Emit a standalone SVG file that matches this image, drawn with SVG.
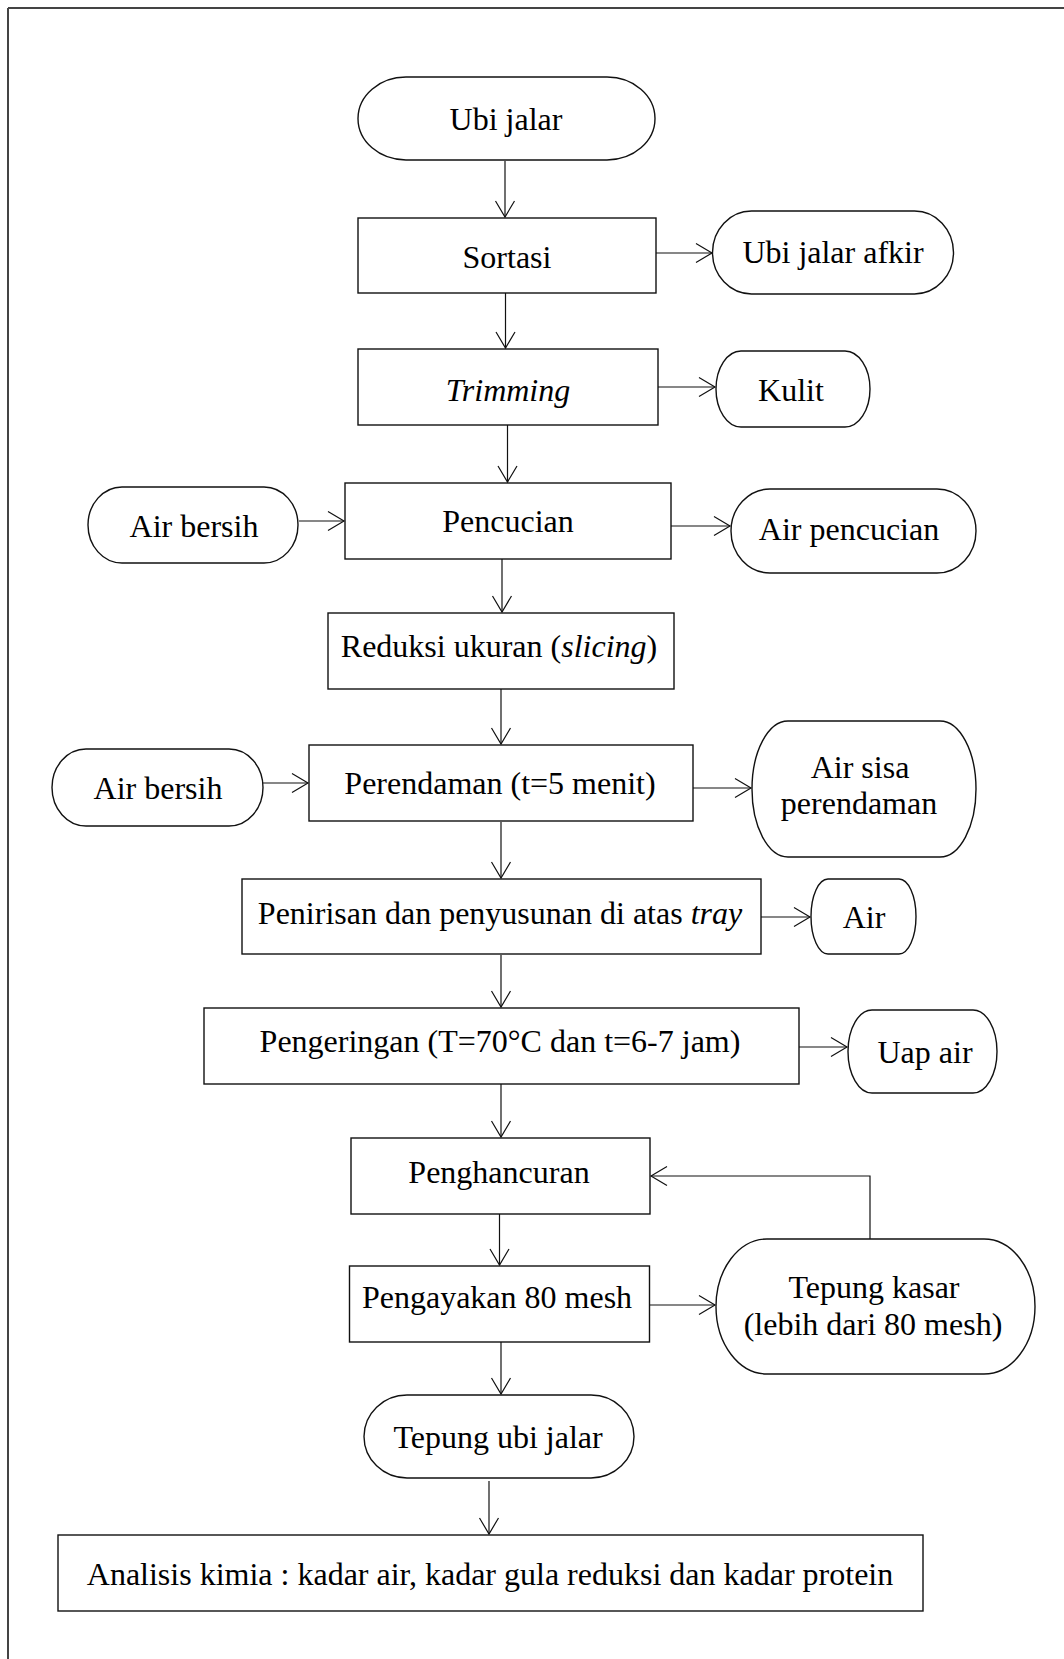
<svg xmlns="http://www.w3.org/2000/svg" width="1064" height="1659" viewBox="0 0 1064 1659">
<style>
.box{fill:#fff;stroke:#111;stroke-width:1.4}
.t{font-family:"Liberation Serif","Times New Roman",serif;font-size:32px;fill:#000;text-anchor:middle}
.i{font-style:italic}
.c{fill:none;stroke:#111;stroke-width:1.2}
</style>
<defs>
<marker id="arr" markerUnits="userSpaceOnUse" markerWidth="20" markerHeight="22" viewBox="-18 -11 20 22" refX="0" refY="0" orient="auto">
<path d="M-16,-9.5 L0,0 L-16,9.5" fill="none" stroke="#111" stroke-width="1.2"/>
</marker>
</defs>
<rect width="1064" height="1659" fill="#fff"/>
<g id="frame">
<line x1="8" y1="8" x2="1064" y2="8" stroke="#444" stroke-width="2"/>
<line x1="8" y1="8" x2="8" y2="1659" stroke="#444" stroke-width="2"/>
</g>
<g id="connectors">
<line class="c" x1="505" y1="161" x2="505" y2="217" marker-end="url(#arr)"/>
<line class="c" x1="656" y1="253" x2="712" y2="253" marker-end="url(#arr)"/>
<line class="c" x1="505.5" y1="293" x2="505.5" y2="348" marker-end="url(#arr)"/>
<line class="c" x1="658" y1="387" x2="715" y2="387" marker-end="url(#arr)"/>
<line class="c" x1="507.5" y1="425" x2="507.5" y2="482" marker-end="url(#arr)"/>
<line class="c" x1="299" y1="521" x2="344" y2="521" marker-end="url(#arr)"/>
<line class="c" x1="671" y1="526" x2="730" y2="526" marker-end="url(#arr)"/>
<line class="c" x1="502" y1="559" x2="502" y2="612" marker-end="url(#arr)"/>
<line class="c" x1="501" y1="689" x2="501" y2="744" marker-end="url(#arr)"/>
<line class="c" x1="263" y1="783" x2="308" y2="783" marker-end="url(#arr)"/>
<line class="c" x1="693" y1="788" x2="751" y2="788" marker-end="url(#arr)"/>
<line class="c" x1="501" y1="822" x2="501" y2="878" marker-end="url(#arr)"/>
<line class="c" x1="761" y1="917" x2="810" y2="917" marker-end="url(#arr)"/>
<line class="c" x1="501" y1="955" x2="501" y2="1007" marker-end="url(#arr)"/>
<line class="c" x1="799" y1="1047" x2="847" y2="1047" marker-end="url(#arr)"/>
<line class="c" x1="501" y1="1084" x2="501" y2="1137" marker-end="url(#arr)"/>
<polyline class="c" points="870,1239 870,1176 651,1176" marker-end="url(#arr)"/>
<line class="c" x1="499.5" y1="1213" x2="499.5" y2="1265" marker-end="url(#arr)"/>
<line class="c" x1="649.5" y1="1305" x2="715" y2="1305" marker-end="url(#arr)"/>
<line class="c" x1="501" y1="1342" x2="501" y2="1394" marker-end="url(#arr)"/>
<line class="c" x1="489" y1="1481" x2="489" y2="1534" marker-end="url(#arr)"/>
</g>
<g id="ubi-jalar"><rect class="box" x="358" y="77" width="297" height="83" rx="48" ry="41.5"/><text class="t" x="506" y="130">Ubi jalar</text></g>
<g id="sortasi"><rect class="box" x="358" y="218" width="298" height="75"/><text class="t" x="507" y="268">Sortasi</text></g>
<g id="ubi-jalar-afkir"><rect class="box" x="712.5" y="211" width="241" height="83" rx="39" ry="41.5"/><text class="t" x="833" y="263">Ubi jalar afkir</text></g>
<g id="trimming"><rect class="box" x="358" y="349" width="300" height="76"/><text class="t i" x="508" y="401">Trimming</text></g>
<g id="kulit"><rect class="box" x="716" y="351" width="154" height="76" rx="25" ry="38"/><text class="t" x="791" y="401">Kulit</text></g>
<g id="air-bersih-1"><rect class="box" x="88" y="487" width="210" height="76" rx="34" ry="38"/><text class="t" x="194" y="537">Air bersih</text></g>
<g id="pencucian"><rect class="box" x="345" y="483" width="326" height="76"/><text class="t" x="508" y="532">Pencucian</text></g>
<g id="air-pencucian"><rect class="box" x="731" y="489" width="245" height="84" rx="39" ry="42"/><text class="t" x="849" y="540">Air pencucian</text></g>
<g id="reduksi"><rect class="box" x="328" y="613" width="346" height="76"/><text class="t" x="499" y="657">Reduksi ukuran (<tspan class="i">slicing</tspan>)</text></g>
<g id="air-bersih-2"><rect class="box" x="52" y="749" width="211" height="77" rx="34" ry="38.5"/><text class="t" x="158" y="799">Air bersih</text></g>
<g id="perendaman"><rect class="box" x="309" y="745" width="384" height="76"/><text class="t" x="500" y="794">Perendaman (t=5 menit)</text></g>
<g id="air-sisa"><rect class="box" x="752" y="721" width="224" height="136" rx="36" ry="68"/><text class="t" x="860" y="778">Air sisa</text><text class="t" x="859" y="814">perendaman</text></g>
<g id="penirisan"><rect class="box" x="242" y="879" width="519" height="75"/><text class="t" x="500" y="924">Penirisan dan penyusunan di atas <tspan class="i">tray</tspan></text></g>
<g id="air"><rect class="box" x="811" y="879" width="105" height="75" rx="17" ry="37.5"/><text class="t" x="864" y="928">Air</text></g>
<g id="pengeringan"><rect class="box" x="204" y="1008" width="595" height="76"/><text class="t" x="500" y="1052">Pengeringan (T=70°C dan t=6-7 jam)</text></g>
<g id="uap-air"><rect class="box" x="848" y="1010" width="149" height="83" rx="24" ry="41.5"/><text class="t" x="925" y="1063">Uap air</text></g>
<g id="penghancuran"><rect class="box" x="351" y="1138" width="299" height="76"/><text class="t" x="499" y="1183">Penghancuran</text></g>
<g id="pengayakan"><rect class="box" x="349.5" y="1266" width="300" height="76"/><text class="t" x="497" y="1308">Pengayakan 80 mesh</text></g>
<g id="tepung-kasar"><rect class="box" x="716" y="1239" width="319" height="135" rx="51" ry="67.5"/><text class="t" x="874" y="1298">Tepung kasar</text><text class="t" x="873" y="1335">(lebih dari 80 mesh)</text></g>
<g id="tepung-ubi-jalar"><rect class="box" x="364" y="1395" width="270" height="83" rx="43" ry="41.5"/><text class="t" x="498" y="1448">Tepung ubi jalar</text></g>
<g id="analisis"><rect class="box" x="58" y="1535" width="865" height="76"/><text class="t" x="490" y="1585">Analisis kimia : kadar air, kadar gula reduksi dan kadar protein</text></g>
</svg>
